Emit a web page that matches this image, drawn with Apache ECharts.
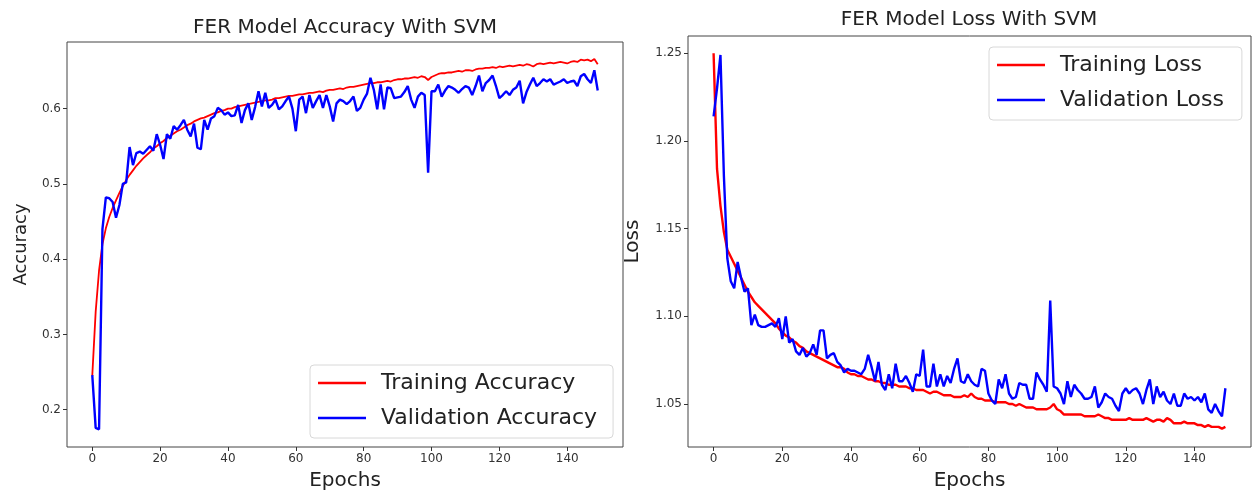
<!DOCTYPE html>
<html>
<head>
<meta charset="utf-8">
<script src="https://cdn.jsdelivr.net/npm/echarts@6/dist/echarts.min.js"></script>
<style>
html,body{margin:0;padding:0;background:#fff;}
#c{width:1254px;height:496px;}
</style>
</head>
<body>
<div id="c"></div>
<script>
// ---- data ----
const trainAcc = [0.245,0.330,0.385,0.420,0.441,0.456,0.468,0.478,0.488,0.497,
0.505,0.512,0.518,0.524,0.529,0.534,0.538,0.542,0.547,0.550,
0.554,0.557,0.561,0.564,0.567,0.570,0.572,0.575,0.578,0.580,
0.583,0.585,0.587,0.588,0.590,0.592,0.594,0.595,0.597,0.598,
0.600,0.600,0.602,0.603,0.604,0.605,0.606,0.607,0.608,0.609,
0.610,0.611,0.611,0.612,0.614,0.614,0.615,0.616,0.617,0.617,
0.618,0.619,0.619,0.620,0.621,0.621,0.622,0.623,0.622,0.624,
0.625,0.625,0.626,0.627,0.626,0.628,0.629,0.629,0.630,0.631,
0.632,0.633,0.634,0.634,0.635,0.635,0.636,0.637,0.636,0.638,
0.639,0.639,0.640,0.640,0.641,0.642,0.641,0.643,0.642,0.638,
0.642,0.644,0.646,0.647,0.647,0.648,0.648,0.649,0.650,0.649,
0.651,0.651,0.650,0.652,0.653,0.653,0.654,0.654,0.655,0.654,
0.656,0.655,0.656,0.657,0.656,0.657,0.658,0.657,0.659,0.658,
0.656,0.659,0.660,0.659,0.660,0.661,0.660,0.661,0.662,0.661,
0.660,0.662,0.663,0.662,0.665,0.664,0.665,0.663,0.666,0.659];

const valAcc = [0.246,0.176,0.174,0.440,0.482,0.481,0.476,0.455,0.472,0.500,
0.502,0.549,0.525,0.541,0.543,0.540,0.545,0.550,0.544,0.566,
0.552,0.533,0.566,0.560,0.577,0.572,0.578,0.585,0.572,0.563,
0.580,0.548,0.546,0.585,0.572,0.587,0.590,0.601,0.598,0.592,
0.595,0.590,0.591,0.605,0.581,0.598,0.607,0.585,0.602,0.623,
0.603,0.621,0.601,0.605,0.612,0.599,0.603,0.610,0.616,0.600,
0.570,0.612,0.616,0.594,0.618,0.601,0.610,0.618,0.601,0.618,
0.603,0.583,0.607,0.612,0.610,0.606,0.610,0.616,0.597,0.601,
0.612,0.620,0.641,0.625,0.599,0.632,0.599,0.628,0.627,0.614,
0.615,0.616,0.622,0.630,0.612,0.601,0.616,0.621,0.618,0.515,
0.623,0.623,0.632,0.616,0.624,0.630,0.628,0.625,0.621,0.626,
0.630,0.628,0.618,0.630,0.644,0.623,0.634,0.638,0.644,0.630,
0.614,0.618,0.623,0.618,0.625,0.628,0.637,0.607,0.622,0.632,
0.641,0.630,0.634,0.639,0.636,0.639,0.632,0.634,0.636,0.639,
0.634,0.636,0.637,0.630,0.643,0.646,0.639,0.634,0.651,0.624];

const trainLoss = [1.250,1.184,1.163,1.148,1.138,1.134,1.130,1.126,1.122,1.118,
1.114,1.111,1.108,1.106,1.104,1.102,1.100,1.098,1.096,1.093,
1.091,1.089,1.088,1.086,1.085,1.083,1.082,1.080,1.079,1.078,
1.077,1.076,1.075,1.074,1.073,1.072,1.071,1.071,1.070,1.068,
1.067,1.067,1.066,1.066,1.065,1.064,1.064,1.063,1.063,1.062,
1.062,1.061,1.061,1.061,1.060,1.060,1.060,1.059,1.059,1.058,
1.058,1.058,1.057,1.056,1.057,1.057,1.056,1.055,1.055,1.055,
1.054,1.054,1.054,1.055,1.054,1.056,1.054,1.053,1.053,1.052,
1.052,1.052,1.051,1.051,1.051,1.051,1.050,1.050,1.049,1.050,
1.049,1.048,1.048,1.048,1.047,1.047,1.047,1.047,1.048,1.050,
1.047,1.046,1.044,1.044,1.044,1.044,1.044,1.044,1.043,1.043,
1.043,1.043,1.044,1.043,1.042,1.042,1.041,1.041,1.041,1.041,
1.041,1.042,1.041,1.041,1.041,1.041,1.042,1.041,1.040,1.041,
1.041,1.040,1.042,1.041,1.039,1.039,1.039,1.040,1.039,1.039,
1.039,1.038,1.038,1.037,1.038,1.037,1.037,1.037,1.036,1.037];

const valLoss = [1.214,1.230,1.249,1.180,1.133,1.120,1.116,1.131,1.122,1.114,
1.116,1.095,1.101,1.095,1.094,1.094,1.095,1.096,1.094,1.099,
1.087,1.100,1.085,1.087,1.080,1.078,1.082,1.077,1.079,1.084,
1.078,1.092,1.092,1.076,1.078,1.079,1.074,1.072,1.068,1.070,
1.069,1.069,1.068,1.067,1.070,1.078,1.071,1.063,1.074,1.061,
1.058,1.067,1.059,1.073,1.063,1.063,1.066,1.062,1.057,1.067,
1.066,1.081,1.060,1.060,1.073,1.060,1.067,1.060,1.066,1.062,
1.070,1.076,1.063,1.062,1.067,1.063,1.061,1.060,1.070,1.069,
1.056,1.052,1.050,1.064,1.059,1.067,1.056,1.053,1.054,1.062,
1.061,1.061,1.053,1.053,1.068,1.064,1.061,1.057,1.109,1.060,
1.059,1.056,1.050,1.063,1.054,1.061,1.058,1.056,1.053,1.053,
1.054,1.060,1.048,1.051,1.056,1.054,1.053,1.049,1.046,1.056,
1.059,1.056,1.058,1.059,1.056,1.050,1.058,1.064,1.050,1.060,
1.054,1.057,1.052,1.050,1.056,1.049,1.049,1.056,1.053,1.054,
1.052,1.054,1.051,1.056,1.047,1.045,1.050,1.046,1.043,1.059];

const epochTicks = [0,20,40,60,80,100,120,140];
const accTicks = [0.2,0.3,0.4,0.5,0.6];
const lossTicks = [1.05,1.10,1.15,1.20,1.25];

const titles = ['FER Model Accuracy With SVM','FER Model Loss With SVM'];
const legendAcc = ['Training Accuracy','Validation Accuracy'];
const legendLoss = ['Training Loss','Validation Loss'];

// ---- build ----
const pairs = arr => arr.map((v,i)=>[i,v]);
const FONT = 'DejaVu Sans';
const RED = '#ff0000', BLUE = '#0000ff';

function xAxisCfg(gi){
  return {
    type:'value', gridIndex:gi, min:-7.45, max:156.45,
    name:'Epochs', nameLocation:'middle', nameGap:24,
    nameTextStyle:{fontFamily:FONT,fontSize:20,color:'#222'},
    axisLine:{show:false,onZero:false}, splitLine:{show:false},
    axisTick:{show:true,inside:false,length:4,customValues:epochTicks,lineStyle:{color:'#333'}},
    axisLabel:{show:true,customValues:epochTicks,margin:6,fontFamily:FONT,fontSize:12,color:'#333'}
  };
}
function yAxisCfg(gi,min,max,ticks,dec,name,nameSize,gap){
  return {
    type:'value', gridIndex:gi, min:min, max:max,
    name:name, nameLocation:'middle', nameGap:gap, nameRotate:90,
    nameTextStyle:{fontFamily:FONT,fontSize:nameSize,color:'#222'},
    axisLine:{show:false,onZero:false}, splitLine:{show:false},
    axisTick:{show:true,inside:false,length:4,customValues:ticks,lineStyle:{color:'#333'}},
    axisLabel:{show:true,customValues:ticks,margin:6,fontFamily:FONT,fontSize:12,color:'#333',
      formatter:v=>Number(v).toFixed(dec)}
  };
}
function legendCfg(left,top,names,padRight){
  return {
    show:true, orient:'vertical', left:left, top:top,
    padding:[7,padRight,9,8], itemGap:13, itemWidth:48, itemHeight:2.6,
    backgroundColor:'#fff', borderColor:'#d8d8d8', borderWidth:1, borderRadius:4,
    textStyle:{fontFamily:FONT,fontSize:22,color:'#222',padding:[0,0,0,10]},
    data:names.map(n=>({name:n, icon:'rect'}))
  };
}

const chart = echarts.init(document.getElementById('c'), null, {renderer:'canvas'});
chart.setOption({
  animation:false,
  backgroundColor:'#fff',
  graphic:[
    {type:'text', x:345, y:28, style:{text:titles[0], fontFamily:FONT, fontSize:20, fill:'#222', textAlign:'center', textVerticalAlign:'middle'}},
    {type:'text', x:969, y:20, style:{text:titles[1], fontFamily:FONT, fontSize:20, fill:'#222', textAlign:'center', textVerticalAlign:'middle'}}
  ],
  grid:[
    {left:67, top:42, width:556, height:407, show:true, borderColor:'#444', borderWidth:1, containLabel:false},
    {left:688, top:36, width:563, height:413, show:true, borderColor:'#444', borderWidth:1, containLabel:false}
  ],
  xAxis:[xAxisCfg(0), xAxisCfg(1)],
  yAxis:[
    yAxisCfg(0,0.1505,0.6885,accTicks,1,'Accuracy',18,37),
    yAxisCfg(1,1.0255,1.2598,lossTicks,2,'Loss',20,45)
  ],
  legend:[
    legendCfg(310,365,legendAcc,16),
    legendCfg(989,47,legendLoss,18)
  ],
  series:[
    {type:'line', name:legendAcc[0], xAxisIndex:0, yAxisIndex:0, data:pairs(trainAcc), showSymbol:false, symbol:'none', lineStyle:{color:RED,width:1.8}, itemStyle:{color:RED}},
    {type:'line', name:legendAcc[1], xAxisIndex:0, yAxisIndex:0, data:pairs(valAcc), showSymbol:false, symbol:'none', lineStyle:{color:BLUE,width:2.4}, itemStyle:{color:BLUE}},
    {type:'line', name:legendLoss[0], xAxisIndex:1, yAxisIndex:1, data:pairs(trainLoss), showSymbol:false, symbol:'none', lineStyle:{color:RED,width:2.4}, itemStyle:{color:RED}},
    {type:'line', name:legendLoss[1], xAxisIndex:1, yAxisIndex:1, data:pairs(valLoss), showSymbol:false, symbol:'none', lineStyle:{color:BLUE,width:2.4}, itemStyle:{color:BLUE}}
  ]
});
</script>
</body>
</html>
